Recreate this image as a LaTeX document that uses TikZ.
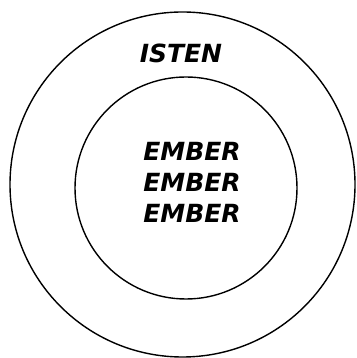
\documentclass[tikz,border=0pt]{standalone}
\usepackage{fontspec}
\setmainfont{DejaVu Sans}
\usepackage{tikz}
\usetikzlibrary{positioning}

\begin{document}
\begin{tikzpicture}[x=1pt,y=1pt,
 ring/.style={draw=black,line width=1.4pt,circle,inner sep=0pt},
 word/.style={font=\fontsize{25}{31}\selectfont\bfseries\itshape,align=center,inner sep=0pt}]
 \useasboundingbox (0,0) rectangle (356,358);
 \node[ring,minimum size=345pt] (outer) at (182.5,173.5) {};
 \node[ring,minimum size=222pt] (inner) at (186,170) {};
 \node[word] (isten) at (181,305) {ISTEN};
 \node[word] (ember) at (192,176) {EMBER\\EMBER\\EMBER};
\end{tikzpicture}
\end{document}
